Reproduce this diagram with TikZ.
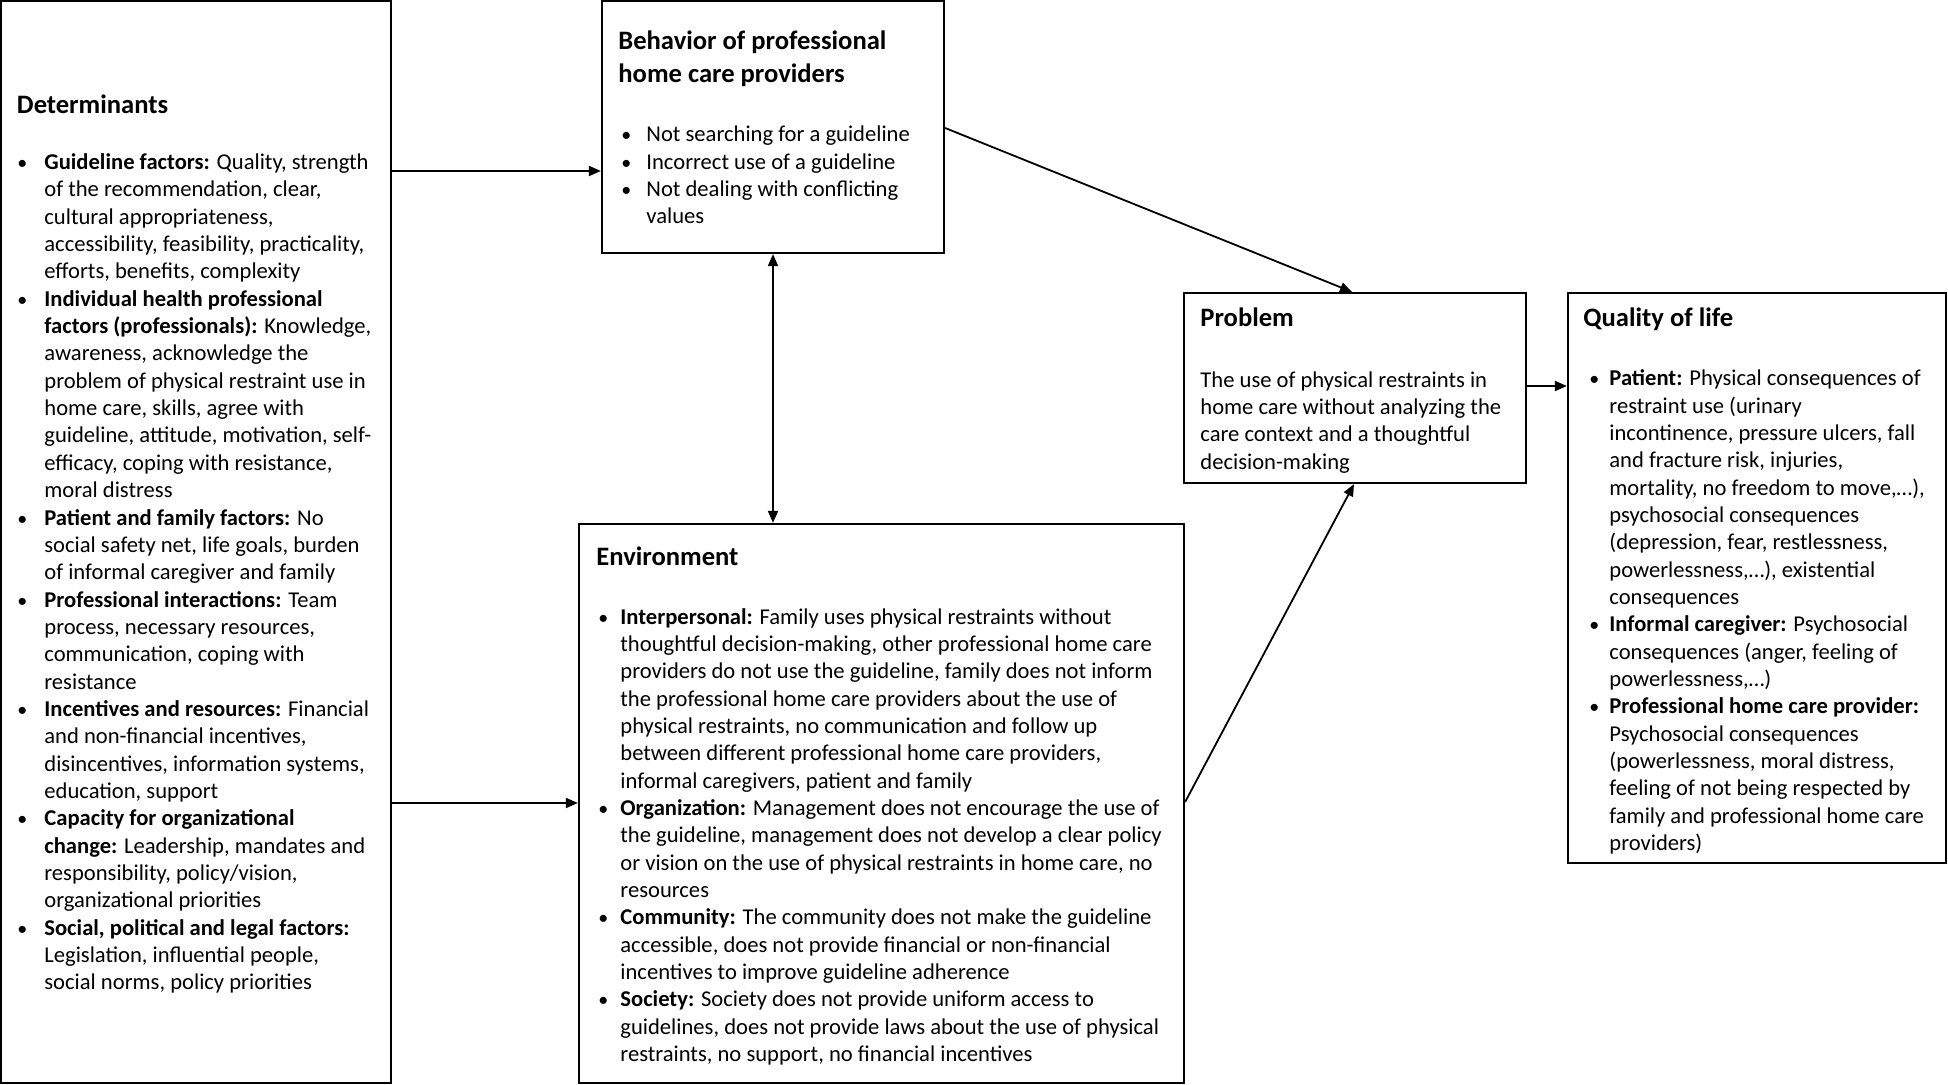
\documentclass[tikz,border=0pt]{standalone}
\usepackage{fontspec}
\setmainfont{Carlito}
\usetikzlibrary{arrows.meta,fit}
\newcommand\bodyfont{\fontsize{11.3}{13.67}\selectfont}
\newcommand\headfont{\fontsize{13.3}{16.2}\selectfont\bfseries}
\newcommand\bu[1]{\hspace*{#1}{\fontsize{10}{10}\selectfont\textbullet}}
\tikzset{
  box/.style={draw=black, line width=1.1pt, inner sep=0pt, rectangle},
  head/.style={anchor=base west, inner sep=0pt, font=\headfont},
  body/.style={anchor=base west, inner sep=0pt, font=\bodyfont},
  arr/.style={line width=0.9pt, -{Triangle[length=6pt,width=5pt]}},
  arrb/.style={line width=0.9pt, {Triangle[length=6pt,width=5pt]}-{Triangle[length=6pt,width=5pt]}}
}
\begin{document}
\begin{tikzpicture}[x=0.5pt,y=-0.5pt]
\useasboundingbox (0,0) rectangle (1948,1085);
% boxes
\node[box, fit={(1,1) (391,1083)}] (det) {};
\node[box, fit={(602,1) (944,253)}] (beh) {};
\node[box, fit={(579,524) (1184,1083)}] (env) {};
\node[box, fit={(1184,293) (1526,483)}] (prob) {};
\node[box, fit={(1568,293) (1946,863)}] (qol) {};

% Determinants
\node[head] (dethead) at (16.6,113.5) {Determinants};
\node[body] (detbody) at (16,169.6) {\begin{tabular}[t]{@{}p{14pt}@{}l@{}}
\bu{0.5pt} & \textbf{Guideline factors:} Quality, strength\\
 & of the recommendation, clear,\\
 & cultural appropriateness,\\
 & accessibility, feasibility, practicality,\\
 & efforts, benefits, complexity\\
\bu{0.5pt} & \textbf{Individual health professional}\\
 & \textbf{factors (professionals):} Knowledge,\\
 & awareness, acknowledge the\\
 & problem of physical restraint use in\\
 & home care, skills, agree with\\
 & guideline, attitude, motivation, self-\\
 & efficacy, coping with resistance,\\
 & moral distress\\
\bu{0.5pt} & \textbf{Patient and family factors:} No\\
 & social safety net, life goals, burden\\
 & of informal caregiver and family\\
\bu{0.5pt} & \textbf{Professional interactions:} Team\\
 & process, necessary resources,\\
 & communication, coping with\\
 & resistance\\
\bu{0.5pt} & \textbf{Incentives and resources:} Financial\\
 & and non-financial incentives,\\
 & disincentives, information systems,\\
 & education, support\\
\bu{0.5pt} & \textbf{Capacity for organizational}\\
 & \textbf{change:} Leadership, mandates and\\
 & responsibility, policy/vision,\\
 & organizational priorities\\
\bu{0.5pt} & \textbf{Social, political and legal factors:}\\
 & Legislation, influential people,\\
 & social norms, policy priorities
\end{tabular}};

% Behavior
\node[head] (behhead) at (618,50) {\begin{tabular}[t]{@{}l@{}}Behavior of professional\\home care providers\end{tabular}};
\node[body] (behbody) at (619,141.7) {\begin{tabular}[t]{@{}p{13.5pt}@{}l@{}}
\bu{1pt} & Not searching for a guideline\\
\bu{1pt} & Incorrect use of a guideline\\
\bu{1pt} & Not dealing with conflicting\\
 & values
\end{tabular}};

% Environment
\node[head] (envhead) at (596,565) {Environment};
\node[body] (envbody) at (596,624) {\begin{tabular}[t]{@{}p{12pt}@{}l@{}}
\bu{1pt} & \textbf{Interpersonal:} Family uses physical restraints without\\
 & thoughtful decision-making, other professional home care\\
 & providers do not use the guideline, family does not inform\\
 & the professional home care providers about the use of\\
 & physical restraints, no communication and follow up\\
 & between different professional home care providers,\\
 & informal caregivers, patient and family\\
\bu{1pt} & \textbf{Organization:} Management does not encourage the use of\\
 & the guideline, management does not develop a clear policy\\
 & or vision on the use of physical restraints in home care, no\\
 & resources\\
\bu{1pt} & \textbf{Community:} The community does not make the guideline\\
 & accessible, does not provide financial or non-financial\\
 & incentives to improve guideline adherence\\
\bu{1pt} & \textbf{Society:} Society does not provide uniform access to\\
 & guidelines, does not provide laws about the use of physical\\
 & restraints, no support, no financial incentives
\end{tabular}};

% Problem
\node[head] (probhead) at (1200,326.6) {Problem};
\node[body] (probbody) at (1200,387) {\begin{tabular}[t]{@{}l@{}}
The use of physical restraints in\\
home care without analyzing the\\
care context and a thoughtful\\
decision-making
\end{tabular}};

% Quality of life
\node[head] (qolhead) at (1583,326.6) {Quality of life};
\node[body] (qolbody) at (1584,385.7) {\begin{tabular}[t]{@{}p{12.5pt}@{}l@{}}
\bu{2.5pt} & \textbf{Patient:} Physical consequences of\\
 & restraint use (urinary\\
 & incontinence, pressure ulcers, fall\\
 & and fracture risk, injuries,\\
 & mortality, no freedom to move,…),\\
 & psychosocial consequences\\
 & (depression, fear, restlessness,\\
 & powerlessness,…), existential\\
 & consequences\\
\bu{2.5pt} & \textbf{Informal caregiver:} Psychosocial\\
 & consequences (anger, feeling of\\
 & powerlessness,…)\\
\bu{2.5pt} & \textbf{Professional home care provider:}\\
 & Psychosocial consequences\\
 & (powerlessness, moral distress,\\
 & feeling of not being respected by\\
 & family and professional home care\\
 & providers)
\end{tabular}};

% connectors
\draw[arr] (det.east |- 0,171) -- (beh.west |- 0,171);
\draw[arr] (det.east |- 0,803) -- (env.west |- 0,803);
\draw[arrb] (beh.south -| 773,0) -- (env.north -| 773,0);
\draw[arr] (beh.east |- 0,128) -- (prob.north -| 1352,0);
\draw[arr] (env.east |- 0,802) -- (prob.south -| 1354,0);
\draw[arr] (prob.east |- 0,386) -- (qol.west |- 0,386);
\end{tikzpicture}
\end{document}
